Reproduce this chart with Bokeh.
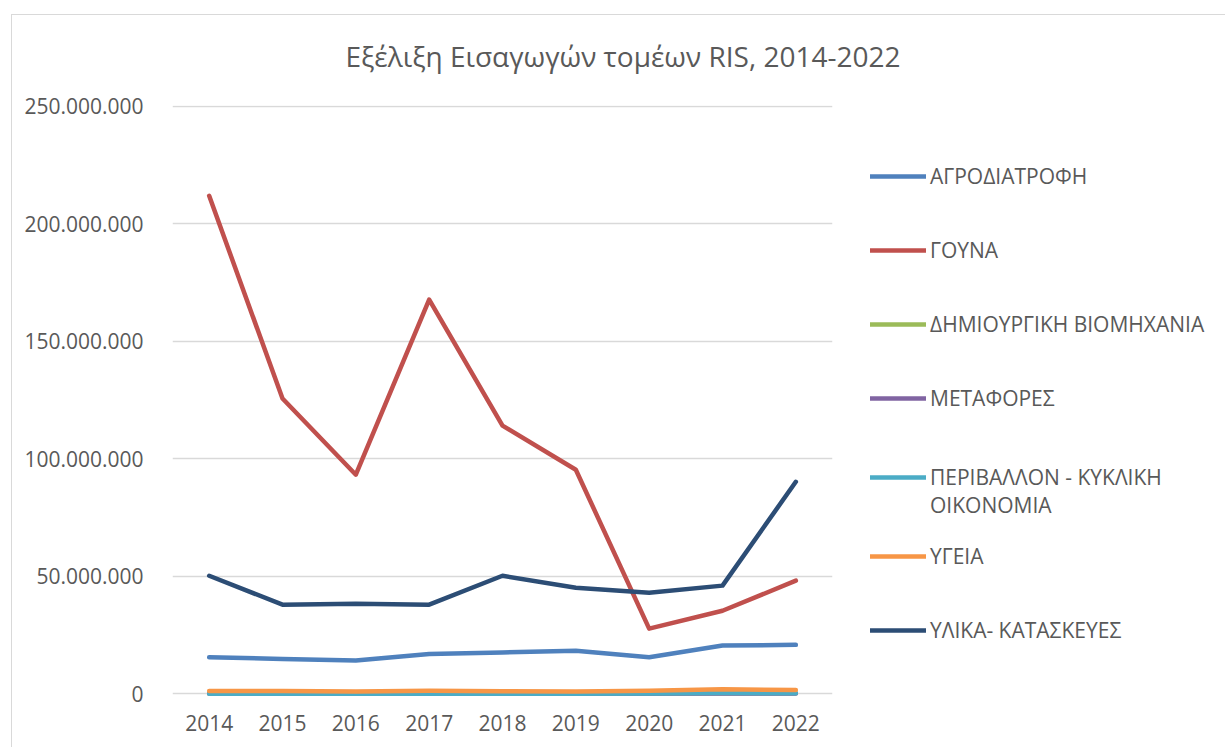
from bokeh.plotting import figure
from bokeh.models import Range1d, FixedTicker, CustomJSTickFormatter, Legend, LegendItem
from bokeh.embed import file_html
from bokeh.resources import INLINE

years = [2014, 2015, 2016, 2017, 2018, 2019, 2020, 2021, 2022]
agrodiatrofi = [15.6e6, 14.9e6, 14.2e6, 17.0e6, 17.7e6, 18.4e6, 15.6e6, 20.6e6, 20.9e6]
gouna = [212.0e6, 125.7e6, 93.3e6, 167.8e6, 114.2e6, 95.4e6, 27.8e6, 35.4e6, 48.2e6]
dimiourgiki = [0.2e6, 0.2e6, 0.2e6, 0.2e6, 0.2e6, 0.2e6, 0.2e6, 0.3e6, 0.3e6]
metafores = [0.15e6, 0.15e6, 0.15e6, 0.15e6, 0.15e6, 0.15e6, 0.15e6, 0.2e6, 0.2e6]
perivallon = [0.1e6, 0.1e6, 0.1e6, 0.1e6, 0.1e6, 0.1e6, 0.2e6, 0.4e6, 0.3e6]
ygeia = [1.3e6, 1.3e6, 1.1e6, 1.4e6, 1.2e6, 1.0e6, 1.4e6, 2.0e6, 1.7e6]
ylika = [50.3e6, 38.0e6, 38.4e6, 38.0e6, 50.3e6, 45.2e6, 43.1e6, 46.1e6, 90.3e6]

series_names = ["ΑΓΡΟΔΙΑΤΡΟΦΗ", "ΓΟΥΝΑ", "ΔΗΜΙΟΥΡΓΙΚΗ ΒΙΟΜΗΧΑΝΙΑ", "ΜΕΤΑΦΟΡΕΣ",
                " \nΠΕΡΙΒΑΛΛΟΝ - ΚΥΚΛΙΚΗ\nΟΙΚΟΝΟΜΙΑ", "ΥΓΕΙΑ", "ΥΛΙΚΑ- ΚΑΤΑΣΚΕΥΕΣ"]
series_values = [agrodiatrofi, gouna, dimiourgiki, metafores, perivallon, ygeia, ylika]
colors = ["#4F81BD", "#C0504D", "#9BBB59", "#8064A2", "#4BACC6", "#F79646", "#2C4D75"]
y_ticks = [0, 50e6, 100e6, 150e6, 200e6, 250e6]

FONT = "Open Sans"
TXT = "#595959"

p = figure(width=1225, height=747, frame_width=660, frame_height=592,
           x_range=Range1d(2013.5, 2022.5), y_range=Range1d(-1.5e6, 250.4e6),
           output_backend="svg", toolbar_location=None,
           min_border_left=172, min_border_right=393, min_border_top=105, min_border_bottom=50)
p.outline_line_color = None
p.background_fill_color = "white"
p.border_fill_color = None
p.styles = {
    "background": "linear-gradient(#D9D9D9, #D9D9D9) 11px 14px / 1px 100% no-repeat, "
                  "linear-gradient(#D9D9D9, #D9D9D9) 11px 14px / 100% 1px no-repeat, white"
}

p.title.text = "Εξέλιξη Εισαγωγών τομέων RIS, 2014-2022"
p.title.align = "left"
p.title.offset = 173
p.title.standoff = 62
p.title.text_font = FONT
p.title.text_font_size = "28px"
p.title.text_font_style = "normal"
p.title.text_color = TXT

items = []
for name, vals, col in zip(series_names, series_values, colors):
    r = p.line(years, vals, line_color=col, line_width=4.5, line_cap="round", line_join="round")
    items.append(LegendItem(label=name, renderers=[r]))

# axes
p.xaxis.ticker = FixedTicker(ticks=years)
p.xaxis.axis_line_color = None
p.xaxis.major_tick_line_color = None
p.xaxis.minor_tick_line_color = None
p.xaxis.major_label_text_font = FONT
p.xaxis.major_label_text_font_size = "21px"
p.xaxis.major_label_text_color = TXT
p.xaxis.major_label_standoff = 11

p.yaxis.ticker = FixedTicker(ticks=y_ticks)
p.yaxis.formatter = CustomJSTickFormatter(
    code="return Math.round(tick).toString().replace(/\\B(?=(\\d{3})+(?!\\d))/g, '.');")
p.yaxis.axis_line_color = None
p.yaxis.major_tick_line_color = None
p.yaxis.minor_tick_line_color = None
p.yaxis.major_label_text_font = FONT
p.yaxis.major_label_text_font_size = "21px"
p.yaxis.major_label_text_color = TXT
p.yaxis.major_label_standoff = 23

p.xgrid.grid_line_color = None
p.ygrid.grid_line_color = "#D9D9D9"
p.ygrid.grid_line_width = 1.3

legend = Legend(items=items, location=(38, 30), padding=0, margin=0, spacing=0,
                glyph_width=56, glyph_height=74, label_height=74, label_standoff=4,
                label_text_font=FONT, label_text_font_size="21px", label_text_color=TXT,
                label_text_line_height=1.16,
                border_line_alpha=0, background_fill_alpha=0)
p.add_layout(legend, "right")

open("out.html", "w").write(file_html(p, INLINE))
